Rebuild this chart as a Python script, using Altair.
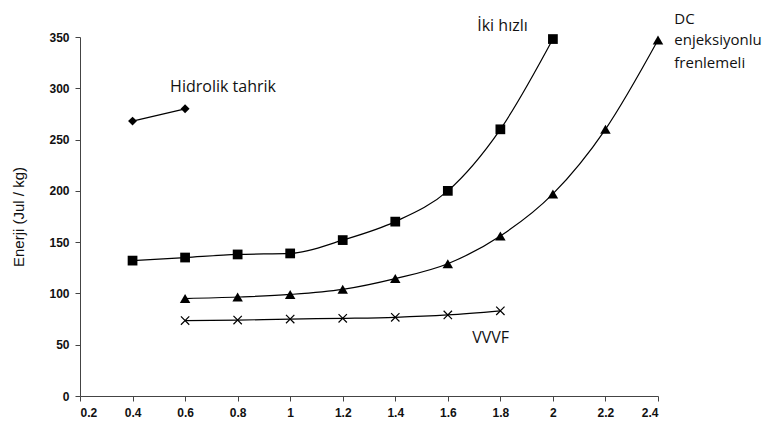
import altair as alt
import pandas as pd

hid_x = [0.4, 0.6]
hid_y = [268, 280]
iki_x = [0.4, 0.6, 0.8, 1.0, 1.2, 1.4, 1.6, 1.8, 2.0]
iki_y = [132, 135, 138, 139, 152, 170, 200, 260, 348]
dc_x = [0.6, 0.8, 1.0, 1.2, 1.4, 1.6, 1.8, 2.0, 2.2, 2.4]
dc_y = [95, 96.5, 99, 104, 114.5, 129, 156, 197, 260, 347]
vv_x = [0.6, 0.8, 1.0, 1.2, 1.4, 1.6, 1.8]
vv_y = [73.5, 74, 75, 75.7, 76.7, 79, 83]

label_text = ["Hidrolik tahrik", "İki hızlı", "VVVF"]
label_x = [0.543, 1.712, 1.693]
label_y = [301, 361, 56.5]

dc_label_text = ["DC", "enjeksiyonlu", "frenlemeli"]
dc_label_x = [2.462, 2.462, 2.462]
dc_label_y = [368, 347.5, 325]

series = ["Hidrolik tahrik", "İki hızlı", "DC", "VVVF"]
rows = []
for name, xs, ys in zip(series, [hid_x, iki_x, dc_x, vv_x], [hid_y, iki_y, dc_y, vv_y]):
    for a, b in zip(xs, ys):
        rows.append({"s": name, "x": a, "y": b})
df = pd.DataFrame(rows)
lab = pd.DataFrame({"t": label_text, "x": label_x, "y": label_y})
dclab = pd.DataFrame({"t": dc_label_text, "x": dc_label_x, "y": dc_label_y})

xs = alt.Scale(domain=[0.2, 2.4], nice=False, zero=False)
ys = alt.Scale(domain=[0, 350], nice=False)

X = alt.X("x:Q", scale=xs, axis=alt.Axis(values=[0.2, 0.4, 0.6, 0.8, 1.0, 1.2, 1.4, 1.6, 1.8, 2.0, 2.2, 2.4],
                                          title=None, labelExpr="format(datum.value, '.1~f')"))
Y = alt.Y("y:Q", scale=ys, axis=alt.Axis(values=[0, 50, 100, 150, 200, 250, 300, 350],
                                          title="Enerji (Jul / kg)"))

lines = alt.Chart(df).mark_line(color="black", strokeWidth=1.2, interpolate="monotone").encode(
    x=X, y=Y, detail="s:N")

filled = alt.Chart(df[df.s != "VVVF"]).mark_point(filled=True, opacity=1, color="black").encode(
    x=X, y=Y,
    shape=alt.Shape("s:N", scale=alt.Scale(domain=["Hidrolik tahrik", "İki hızlı", "DC"],
                                           range=["diamond", "square", "triangle-up"]), legend=None),
    size=alt.Size("s:N", scale=alt.Scale(domain=["Hidrolik tahrik", "İki hızlı", "DC"],
                                         range=[80, 110, 100]), legend=None))

crosses = alt.Chart(df[df.s == "VVVF"]).mark_point(
    shape="M-1,-1L1,1M-1,1L1,-1", filled=False, color="black", strokeWidth=1.2, size=70, opacity=1
).encode(x=X, y=Y)

texts = alt.Chart(lab).mark_text(align="left", baseline="middle", font="Open Sans", fontSize=16,
                                  color="#111", clip=False).encode(
    x=alt.X("x:Q", scale=xs), y=alt.Y("y:Q", scale=ys), text="t:N")

dctexts = alt.Chart(dclab).mark_text(align="left", baseline="middle", font="Open Sans", fontSize=15,
                                      color="#111", clip=False).encode(
    x=alt.X("x:Q", scale=xs), y=alt.Y("y:Q", scale=ys), text="t:N")

chart = alt.layer(lines, filled, crosses, texts, dctexts).properties(
    width=578, height=359,
    padding={"left": 72, "top": 29, "right": 109, "bottom": 24},
    autosize=alt.AutoSizeParams(type="none"),
).configure_view(stroke=None).configure_axis(
    grid=False, domainColor="#444", tickColor="#444", tickSize=5,
    labelFont="Liberation Sans", labelFontWeight="bold", labelFontSize=12, labelColor="#111",
    titleFont="Liberation Sans", titleFontWeight="normal", titleFontSize=15, titleColor="#111",
).configure_axisY(titlePadding=22, labelPadding=6).configure_axisX(labelPadding=6)

chart.save("out.html", embed_options={"renderer": "svg", "actions": False})
